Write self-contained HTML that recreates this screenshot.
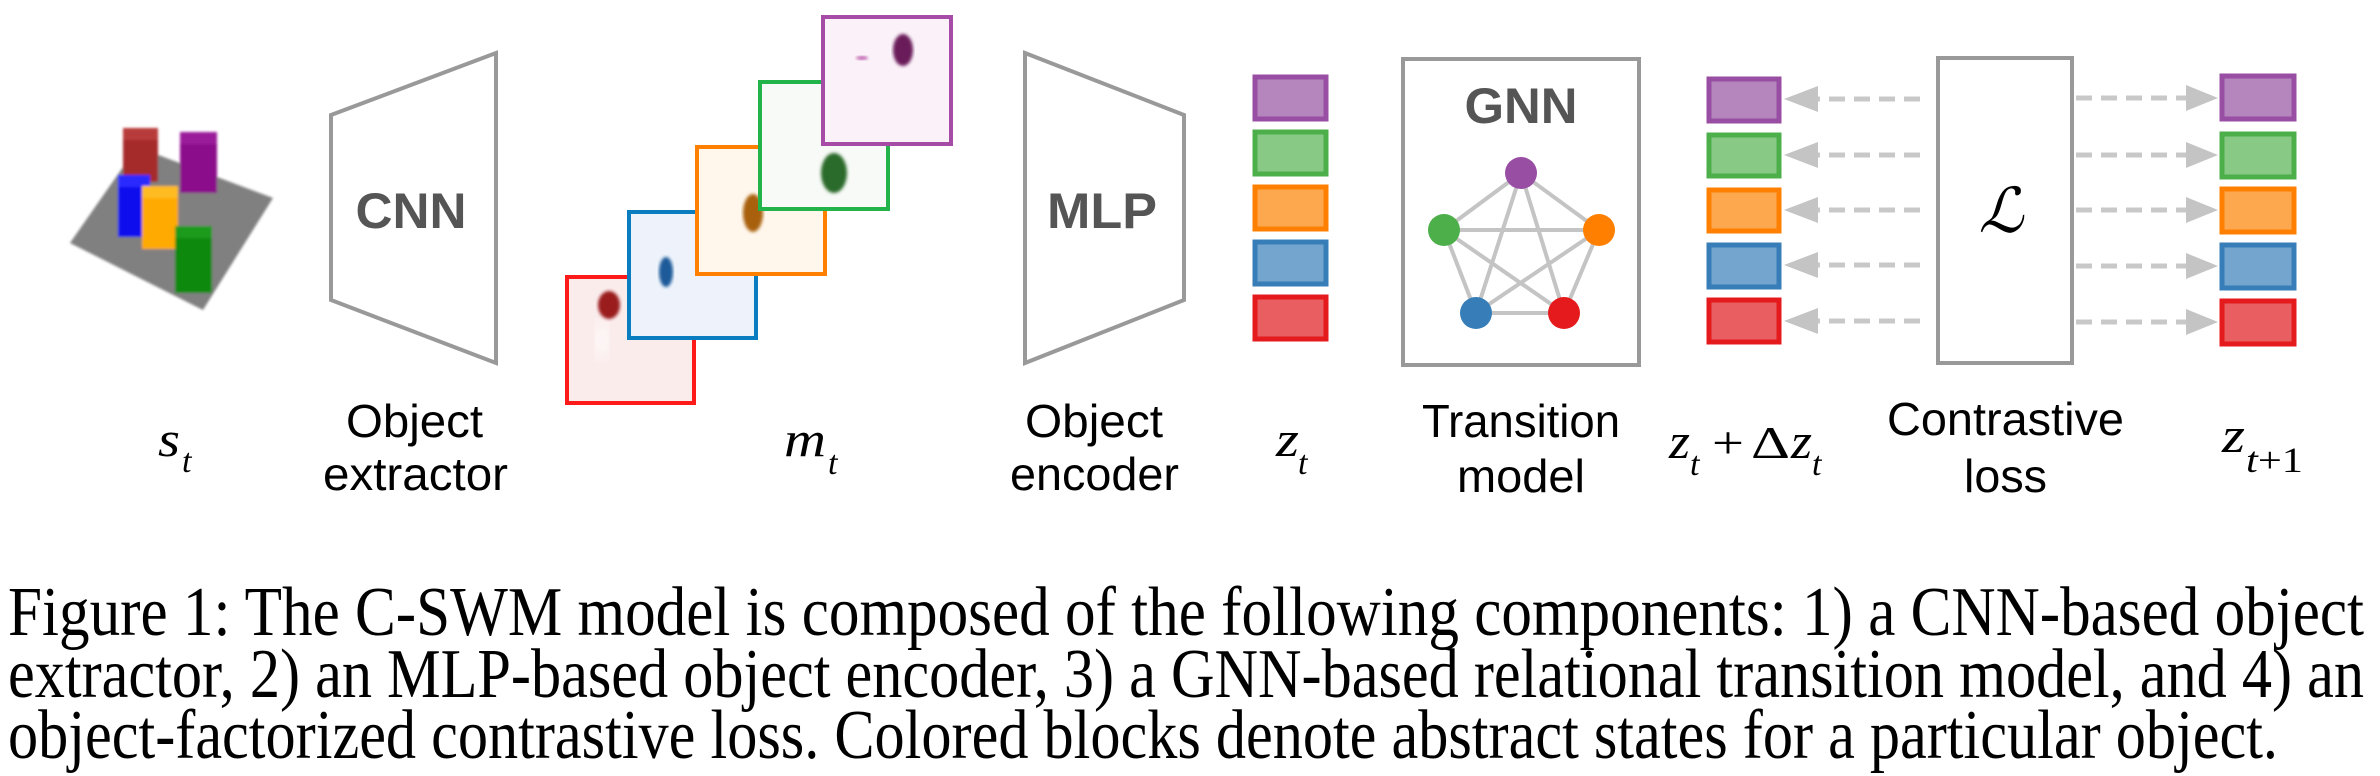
<!DOCTYPE html>
<html><head><meta charset="utf-8"><style>
html,body{margin:0;padding:0;background:#fff;}
svg{display:block;}
.lbl{font-family:"Liberation Sans",sans-serif;font-size:46px;fill:#000;}
.bold{font-family:"Liberation Sans",sans-serif;font-weight:bold;font-size:50px;fill:#555;}
.math{font-family:"Liberation Serif",serif;font-style:italic;fill:#000;}
.rm{font-family:"Liberation Serif",serif;fill:#000;}
.cap{font-family:"Liberation Serif",serif;font-size:70px;fill:#000;}
</style></head><body>
<svg width="2380" height="776" viewBox="0 0 2380 776" xmlns="http://www.w3.org/2000/svg">
<defs><filter id="bl"><feGaussianBlur stdDeviation="1.2"/></filter><filter id="bl2"><feGaussianBlur stdDeviation="1.5"/></filter><filter id="bl3"><feGaussianBlur stdDeviation="8"/></filter></defs>
<!-- scene -->
<g filter="url(#bl)">
<polygon points="70,243 203,310 273,198 137,147" fill="#808080"/>
<rect x="123" y="128" width="35" height="54" fill="#a52a2a"/><rect x="123" y="128" width="35" height="12" fill="#b83a3a"/>
<rect x="180" y="132" width="37" height="61" fill="#8b0a8b"/><rect x="180" y="132" width="37" height="12" fill="#9b1f9b"/>
<rect x="118" y="175" width="32" height="62" fill="#1010ee"/><rect x="118" y="175" width="32" height="12" fill="#2a2aff"/>
<rect x="142" y="186" width="36" height="63" fill="#ffaa00"/><rect x="142" y="186" width="36" height="12" fill="#ffbb22"/>
<rect x="175" y="226" width="37" height="67" fill="#0a8a0a"/><rect x="175" y="226" width="37" height="12" fill="#1a9a1a"/>
</g>
<!-- CNN -->
<polygon points="331,115 496,53 496,363 331,300" fill="none" stroke="#999" stroke-width="4"/>
<text class="bold" x="411" y="228" text-anchor="middle" textLength="111" lengthAdjust="spacingAndGlyphs">CNN</text>
<!-- masks -->
<g stroke-width="4">
<rect x="567" y="277" width="127" height="126" fill="#fbecec" stroke="#ff1a1a"/>
<ellipse cx="602" cy="340" rx="6" ry="18" fill="#ffffff" filter="url(#bl3)"/>
<ellipse cx="609" cy="305" rx="11" ry="14" fill="#9a1a1f" filter="url(#bl2)"/>
<rect x="629" y="212" width="127" height="126" fill="#eef3fb" stroke="#0a7dc0"/>
<ellipse cx="666" cy="272" rx="7" ry="15" fill="#1f5a9a" filter="url(#bl2)"/>
<rect x="697" y="147" width="128" height="127" fill="#fff6ec" stroke="#ff7f00"/>
<ellipse cx="753" cy="213" rx="10" ry="19" fill="#a8600a" filter="url(#bl2)"/>
<rect x="760" y="82" width="128" height="127" fill="#f7faf6" stroke="#22b34a"/>
<ellipse cx="834" cy="173" rx="13" ry="20" fill="#2a6a2a" filter="url(#bl2)"/>
<rect x="823" y="17" width="128" height="127" fill="#faf2f8" stroke="#a64ca6"/>
<ellipse cx="903" cy="50" rx="10" ry="16" fill="#6a1a5a" filter="url(#bl2)"/>
<ellipse cx="862" cy="58" rx="6" ry="2" fill="#c060b0" filter="url(#bl2)"/>
</g>
<!-- MLP -->
<polygon points="1025,53 1184,115 1184,300 1025,363" fill="none" stroke="#999" stroke-width="4"/>
<text class="bold" x="1102" y="228" text-anchor="middle" textLength="110" lengthAdjust="spacingAndGlyphs">MLP</text>
<!-- z_t blocks -->
<g stroke-width="5">
<rect x="1255" y="77" width="71" height="42" fill="#b586bd" stroke="#984ea3"/>
<rect x="1255" y="132" width="71" height="42" fill="#88c985" stroke="#4daf4a"/>
<rect x="1255" y="187" width="71" height="42" fill="#fda74f" stroke="#ff7f00"/>
<rect x="1255" y="242" width="71" height="42" fill="#73a5cf" stroke="#377eb8"/>
<rect x="1255" y="297" width="71" height="42" fill="#e95e60" stroke="#e41a1c"/>
</g>
<!-- GNN -->
<rect x="1403" y="59" width="236" height="306" fill="none" stroke="#999" stroke-width="4"/>
<text class="bold" x="1521" y="123" text-anchor="middle" textLength="113" lengthAdjust="spacingAndGlyphs">GNN</text>
<g stroke="#c4c4c4" stroke-width="4">
<line x1="1521" y1="173" x2="1444" y2="230"/><line x1="1521" y1="173" x2="1599" y2="230"/>
<line x1="1521" y1="173" x2="1476" y2="313"/><line x1="1521" y1="173" x2="1564" y2="313"/>
<line x1="1444" y1="230" x2="1599" y2="230"/><line x1="1444" y1="230" x2="1476" y2="313"/>
<line x1="1444" y1="230" x2="1564" y2="313"/><line x1="1599" y1="230" x2="1476" y2="313"/>
<line x1="1599" y1="230" x2="1564" y2="313"/><line x1="1476" y1="313" x2="1564" y2="313"/>
</g>
<circle cx="1521" cy="173" r="16" fill="#984ea3"/>
<circle cx="1444" cy="230" r="16" fill="#4daf4a"/>
<circle cx="1599" cy="230" r="16" fill="#ff7f00"/>
<circle cx="1476" cy="313" r="16" fill="#377eb8"/>
<circle cx="1564" cy="313" r="16" fill="#e41a1c"/>
<!-- z+dz blocks -->
<g stroke-width="5">
<rect x="1709" y="79" width="70" height="42" fill="#b586bd" stroke="#984ea3"/>
<rect x="1709" y="135" width="70" height="41" fill="#88c985" stroke="#4daf4a"/>
<rect x="1709" y="190" width="70" height="41" fill="#fda74f" stroke="#ff7f00"/>
<rect x="1709" y="245" width="70" height="42" fill="#73a5cf" stroke="#377eb8"/>
<rect x="1709" y="300" width="70" height="42" fill="#e95e60" stroke="#e41a1c"/>
</g>
<!-- arrows -->
<g stroke="#c8c8c8" stroke-width="5" stroke-dasharray="16,9">
<line x1="1920" y1="99" x2="1814" y2="99"/><line x1="1920" y1="155" x2="1814" y2="155"/>
<line x1="1920" y1="210" x2="1814" y2="210"/><line x1="1920" y1="265" x2="1814" y2="265"/>
<line x1="1920" y1="321" x2="1814" y2="321"/>
<line x1="2076" y1="98" x2="2190" y2="98"/><line x1="2076" y1="155" x2="2190" y2="155"/>
<line x1="2076" y1="210" x2="2190" y2="210"/><line x1="2076" y1="266" x2="2190" y2="266"/>
<line x1="2076" y1="322" x2="2190" y2="322"/>
</g>
<g fill="#c4c4c4">
<polygon points="1784,99 1818,86 1818,112"/><polygon points="1784,155 1818,142 1818,168"/>
<polygon points="1784,210 1818,197 1818,223"/><polygon points="1784,265 1818,252 1818,278"/>
<polygon points="1784,321 1818,308 1818,334"/>
<polygon points="2218,98 2186,85 2186,111"/><polygon points="2218,155 2186,142 2186,168"/>
<polygon points="2218,210 2186,197 2186,223"/><polygon points="2218,266 2186,253 2186,279"/>
<polygon points="2218,322 2186,309 2186,335"/>
</g>
<!-- contrastive box -->
<rect x="1938" y="58" width="134" height="305" fill="none" stroke="#999" stroke-width="4"/>
<text x="2001" y="232" text-anchor="middle" font-family="'DejaVu Serif','Liberation Serif',serif" font-style="italic" font-size="62" fill="#000">ℒ</text>
<!-- z_{t+1} blocks -->
<g stroke-width="5">
<rect x="2222" y="76" width="72" height="43" fill="#b586bd" stroke="#984ea3"/>
<rect x="2222" y="134" width="72" height="43" fill="#88c985" stroke="#4daf4a"/>
<rect x="2222" y="189" width="72" height="43" fill="#fda74f" stroke="#ff7f00"/>
<rect x="2222" y="245" width="72" height="43" fill="#73a5cf" stroke="#377eb8"/>
<rect x="2222" y="301" width="72" height="43" fill="#e95e60" stroke="#e41a1c"/>
</g>
<!-- labels -->
<text class="lbl" x="346" y="437" textLength="137" lengthAdjust="spacingAndGlyphs">Object</text>
<text class="lbl" x="323" y="490" textLength="185" lengthAdjust="spacingAndGlyphs">extractor</text>
<text class="lbl" x="1025" y="437" textLength="138" lengthAdjust="spacingAndGlyphs">Object</text>
<text class="lbl" x="1010" y="490" textLength="169" lengthAdjust="spacingAndGlyphs">encoder</text>
<text class="lbl" x="1422" y="437" textLength="198" lengthAdjust="spacingAndGlyphs">Transition</text>
<text class="lbl" x="1457" y="492" textLength="128" lengthAdjust="spacingAndGlyphs">model</text>
<text class="lbl" x="1887" y="435" textLength="237" lengthAdjust="spacingAndGlyphs">Contrastive</text>
<text class="lbl" x="1964" y="492" textLength="83" lengthAdjust="spacingAndGlyphs">loss</text>
<!-- math -->
<text class="math" x="158" y="456" font-size="50" textLength="22" lengthAdjust="spacingAndGlyphs">s</text><text class="math" x="182" y="472" font-size="34">t</text>
<text class="math" x="784" y="456" font-size="50" textLength="42" lengthAdjust="spacingAndGlyphs">m</text><text class="math" x="828" y="474" font-size="34">t</text>
<text class="math" x="1276" y="456" font-size="50" textLength="23" lengthAdjust="spacingAndGlyphs">z</text><text class="math" x="1298" y="474" font-size="34">t</text>
<text class="math" x="1669" y="458" font-size="50" textLength="21" lengthAdjust="spacingAndGlyphs">z</text><text class="math" x="1690" y="475" font-size="34">t</text>
<text class="rm" x="1712" y="458" font-size="46" textLength="32" lengthAdjust="spacingAndGlyphs">+</text>
<text class="rm" x="1751" y="458" font-size="46" textLength="39" lengthAdjust="spacingAndGlyphs">Δ</text>
<text class="math" x="1791" y="458" font-size="50" textLength="21" lengthAdjust="spacingAndGlyphs">z</text><text class="math" x="1812" y="475" font-size="34">t</text>
<text class="math" x="2222" y="452" font-size="50" textLength="23" lengthAdjust="spacingAndGlyphs">z</text>
<text class="rm" x="2246" y="472" font-size="36" textLength="57" lengthAdjust="spacingAndGlyphs"><tspan font-style="italic">t</tspan>+1</text>
<!-- caption -->
<text class="cap" x="8" y="635" textLength="2356" lengthAdjust="spacingAndGlyphs">Figure 1: The C-SWM model is composed of the following components: 1) a CNN-based object</text>
<text class="cap" x="8" y="697" textLength="2356" lengthAdjust="spacingAndGlyphs">extractor, 2) an MLP-based object encoder, 3) a GNN-based relational transition model, and 4) an</text>
<text class="cap" x="8" y="758" textLength="2270" lengthAdjust="spacingAndGlyphs">object-factorized contrastive loss. Colored blocks denote abstract states for a particular object.</text>
</svg>
</body></html>
